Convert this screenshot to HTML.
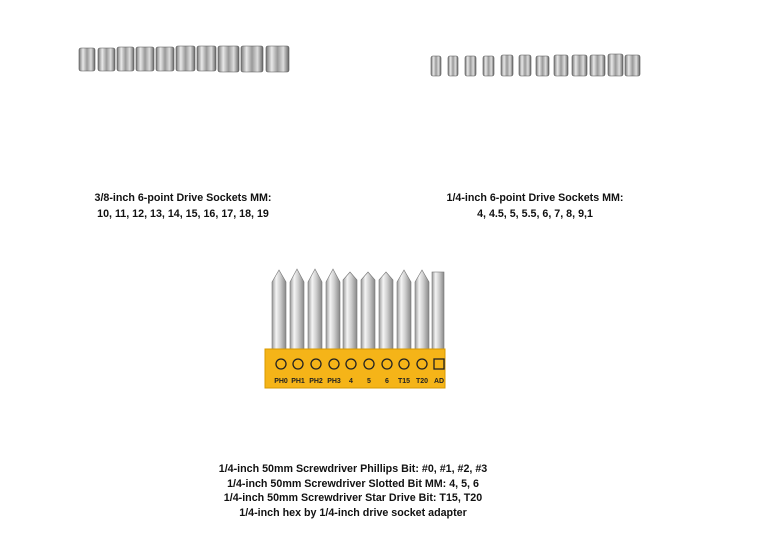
<!DOCTYPE html>
<html><head><meta charset="utf-8"><style>
body{margin:0;width:771px;height:542px;background:#fff;position:relative;overflow:hidden;font-family:"Liberation Sans",Arial,sans-serif;}
.t{position:absolute;font-size:10.7px;font-weight:bold;color:#111;text-align:center;line-height:16px;white-space:nowrap}
</style></head><body>
<svg width="771" height="542" style="position:absolute;left:0;top:0">
<defs>
<linearGradient id="m" x1="0" x2="1">
<stop offset="0" stop-color="#777"/><stop offset=".25" stop-color="#e8e8e8"/><stop offset=".5" stop-color="#999"/><stop offset=".75" stop-color="#ddd"/><stop offset="1" stop-color="#666"/>
</linearGradient>
<linearGradient id="b" x1="0" x2="1">
<stop offset="0" stop-color="#999"/><stop offset=".3" stop-color="#f4f4f4"/><stop offset=".6" stop-color="#ccc"/><stop offset="1" stop-color="#888"/>
</linearGradient>
</defs>
<g fill="url(#m)" stroke="#555" stroke-width="0.6">
<rect x="79" y="48" width="16" height="23" rx="2"/>
<rect x="98" y="48" width="17" height="23" rx="2"/>
<rect x="117" y="47" width="17" height="24" rx="2"/>
<rect x="136" y="47" width="18" height="24" rx="2"/>
<rect x="156" y="47" width="18" height="24" rx="2"/>
<rect x="176" y="46" width="19" height="25" rx="2"/>
<rect x="197" y="46" width="19" height="25" rx="2"/>
<rect x="218" y="46" width="21" height="26" rx="2"/>
<rect x="241" y="46" width="22" height="26" rx="2"/>
<rect x="266" y="46" width="23" height="26" rx="2"/>
</g>
<g fill="url(#m)" stroke="#555" stroke-width="0.6">
<rect x="431" y="56" width="10" height="20" rx="2"/>
<rect x="448" y="56" width="10" height="20" rx="2"/>
<rect x="465" y="56" width="11" height="20" rx="2"/>
<rect x="483" y="56" width="11" height="20" rx="2"/>
<rect x="501" y="55" width="12" height="21" rx="2"/>
<rect x="519" y="55" width="12" height="21" rx="2"/>
<rect x="536" y="56" width="13" height="20" rx="2"/>
<rect x="554" y="55" width="14" height="21" rx="2"/>
<rect x="572" y="55" width="15" height="21" rx="2"/>
<rect x="590" y="55" width="15" height="21" rx="2"/>
<rect x="608" y="54" width="15" height="22" rx="2"/>
<rect x="625" y="55" width="15" height="21" rx="2"/>
</g>
<g fill="url(#b)" stroke="#777" stroke-width="0.6">
<path d="M272 282 l7 -12 l7 12 v70 h-14z"/>
<path d="M290 282 l7 -13 l7 13 v70 h-14z"/>
<path d="M308 282 l7 -13 l7 13 v70 h-14z"/>
<path d="M326 282 l7 -13 l7 13 v70 h-14z"/>
<path d="M343 280 l7 -8 l7 8 v72 h-14z"/>
<path d="M361 280 l7 -8 l7 8 v72 h-14z"/>
<path d="M379 280 l7 -8 l7 8 v72 h-14z"/>
<path d="M397 282 l7 -12 l7 12 v70 h-14z"/>
<path d="M415 282 l7 -12 l7 12 v70 h-14z"/>
<rect x="432" y="272" width="12" height="80"/>
</g>
<rect x="265" y="349" width="180" height="39" fill="#f5b418" stroke="#d89a00"/>
<g fill="none" stroke="#222" stroke-width="1.3">
<circle cx="281" cy="364" r="5"/><circle cx="298" cy="364" r="5"/><circle cx="316" cy="364" r="5"/><circle cx="334" cy="364" r="5"/><circle cx="351" cy="364" r="5"/><circle cx="369" cy="364" r="5"/><circle cx="387" cy="364" r="5"/><circle cx="404" cy="364" r="5"/><circle cx="422" cy="364" r="5"/><rect x="434" y="359" width="10" height="10"/>
</g>
<g font-size="7" font-weight="bold" fill="#222" text-anchor="middle" font-family="Liberation Sans,sans-serif">
<text x="281" y="383">PH0</text><text x="298" y="383">PH1</text><text x="316" y="383">PH2</text><text x="334" y="383">PH3</text><text x="351" y="383">4</text><text x="369" y="383">5</text><text x="387" y="383">6</text><text x="404" y="383">T15</text><text x="422" y="383">T20</text><text x="439" y="383">AD</text>
</g>
</svg>
<div class="t" style="left:83px;top:190px;width:200px">3/8-inch 6-point Drive Sockets MM:<br>10, 11, 12, 13, 14, 15, 16, 17, 18, 19</div>
<div class="t" style="left:435px;top:190px;width:200px">1/4-inch 6-point Drive Sockets MM:<br>4, 4.5, 5, 5.5, 6, 7, 8, 9,1</div>
<div class="t" style="left:203px;top:462px;width:300px;line-height:14.7px">1/4-inch 50mm Screwdriver Phillips Bit: #0, #1, #2, #3<br>1/4-inch 50mm Screwdriver Slotted Bit MM: 4, 5, 6<br>1/4-inch 50mm Screwdriver Star Drive Bit: T15, T20<br>1/4-inch hex by 1/4-inch drive socket adapter</div>
</body></html>
